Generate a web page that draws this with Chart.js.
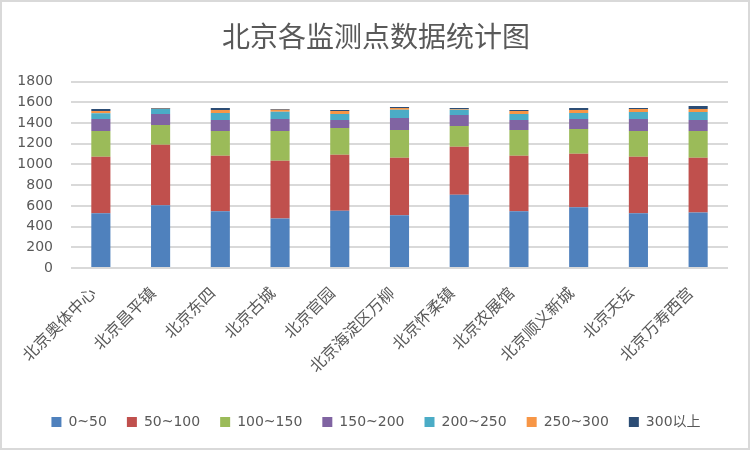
<!DOCTYPE html>
<html>
<head>
<meta charset="utf-8">
<script src="https://cdn.jsdelivr.net/npm/chart.js@4/dist/chart.umd.min.js"></script>
<style>
html,body{margin:0;padding:0;background:#fff;}
#wrap{position:absolute;left:0;top:0;width:752px;height:452px;}
</style>
</head>
<body>
<div id="wrap"><canvas id="c" width="752" height="452"></canvas></div>
<script>
const categories = ['北京奥体中心','北京昌平镇','北京东四','北京古城','北京官园','北京海淀区万柳','北京怀柔镇','北京农展馆','北京顺义新城','北京天坛','北京万寿西宫'];
const seriesNames = ['0~50','50~100','100~150','150~200','200~250','250~300','300以上'];
const s0to50    = [529, 606, 548, 478, 554, 510, 708, 548, 587, 529, 535];
const s50to100  = [545, 583, 535, 557, 539, 554, 462, 535, 516, 545, 529];
const s100to150 = [250, 192, 241, 289, 260, 269, 202, 250, 240, 250, 260];
const s150to200 = [115, 106, 105, 115,  76, 116, 106,  96,  96, 115, 105];
const s200to250 = [ 55,  48,  68,  71,  58,  80,  51,  58,  58,  67,  77];
const s250to300 = [ 22,   3,  29,  19,  29,  16,   6,  29,  29,  29,  29];
const s300plus  = [ 19,   7,  19,   6,  10,   9,  10,  10,  19,  10,  29];
const yMin = 0, yMax = 1800, yStep = 200;

const colors = ['#4f81bd','#c0504d','#9bbb59','#8064a2','#4bacc6','#f79646','#2c4d75'];
const allSeries = [s0to50,s50to100,s100to150,s150to200,s200to250,s250to300,s300plus];

const borderPlugin = {
  id:'frame',
  beforeDraw(chart){
    const ctx = chart.ctx;
    ctx.save();
    ctx.fillStyle='#ffffff';
    ctx.fillRect(0,0,chart.width,chart.height);
    ctx.strokeStyle='#d9d9d9';
    ctx.lineWidth=2;
    ctx.strokeRect(1,1,748,448);
    ctx.restore();
  }
};

new Chart(document.getElementById('c'), {
  type:'bar',
  data:{
    labels:categories,
    datasets: allSeries.map((d,i)=>({
      label:seriesNames[i],
      data:d,
      backgroundColor:colors[i],
      borderWidth:0,
      categoryPercentage:1.0,
      barPercentage:0.32
    }))
  },
  options:{
    responsive:false,
    animation:false,
    devicePixelRatio:1,
    layout:{padding:{left:0,right:0,top:0,bottom:13}},
    plugins:{
      title:{
        display:true,
        text:'北京各监测点数据统计图',
        color:'#595959',
        font:{family:'"Noto Sans CJK SC", sans-serif',size:28,weight:'normal'},
        padding:{top:20,bottom:28}
      },
      legend:{
        position:'bottom',
        labels:{
          color:'#595959',
          font:{family:'"DejaVu Sans","Noto Sans CJK SC", sans-serif',size:14},
          boxWidth:10,boxHeight:10,
          padding:20
        }
      },
      tooltip:{enabled:false}
    },
    scales:{
      x:{
        stacked:true,
        grid:{display:false,drawTicks:false},
        border:{display:false},
        ticks:{
          autoSkip:false,
          maxRotation:45,minRotation:45,
          color:'#595959',
          padding:15,
          labelOffset:-8,
          font:{family:'"Noto Sans CJK SC", sans-serif',size:16}
        },
        afterFit(axis){ axis.height = 127; }
      },
      y:{
        stacked:true,
        min:yMin,max:yMax,
        grid:{color:'#d9d9d9',lineWidth:2,drawTicks:false},
        border:{display:false},
        ticks:{
          stepSize:yStep,
          autoSkip:false,
          color:'#595959',
          padding:18,
          font:{family:'"DejaVu Sans", sans-serif',size:14},
          callback:(v)=>String(v)
        },
        afterFit(axis){ axis.width = 71; }
      },
      yRight:{
        position:'right',
        display:true,
        min:yMin,max:yMax,
        grid:{display:false,drawTicks:false},
        border:{display:false},
        ticks:{display:false},
        afterFit(axis){ axis.width = 24; }
      }
    }
  },
  plugins:[borderPlugin]
});
</script>
</body>
</html>
